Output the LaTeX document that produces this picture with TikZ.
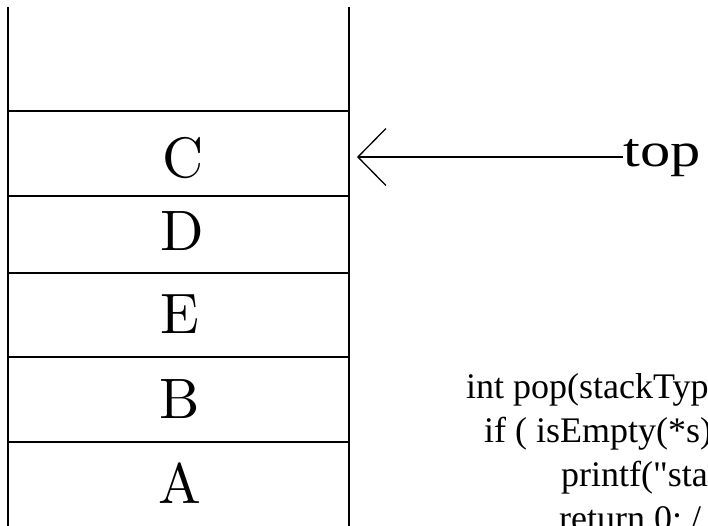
\documentclass[tikz,border=0pt]{standalone}
\usepackage{fontspec}
\usetikzlibrary{arrows.meta}
\newfontfamily\codefont{Liberation Serif}
\newfontfamily\lmten{lmroman10-regular}[Extension=.otf]
\tikzset{
  wall/.style={line width=1.4pt, black},
  cellline/.style={line width=1.3pt, black},
  letter/.style={anchor=base, inner sep=0pt, font=\lmten\fontsize{57}{60}\selectfont},
  codeline/.style={anchor=base west, inner sep=0pt, font=\codefont\fontsize{36}{40}\selectfont},
  toptext/.style={anchor=base west, inner sep=0pt, xscale=1.26, font=\codefont\fontsize{48}{52}\selectfont},
  ptr/.style={line width=1.3pt, -{Straight Barb[length=28pt, width=57pt, line width=1.3pt]}}
}
\begin{document}
\begin{tikzpicture}[x=1pt, y=-1pt]
\useasboundingbox (0,0) rectangle (708,525);
\clip (0,0) rectangle (708,525);
% stack walls
\draw[wall] (8,7) -- (8,530);
\draw[wall] (349,7) -- (349,530);
% cell separators
\foreach \yy in {111,196,273,357,442}{
  \draw[cellline] (8,\yy) -- (349,\yy);
}
% cell contents
\node[letter] (C) at (183,177) {C};
\node[letter] (D) at (182,250) {D};
\node[letter] (E) at (180,333) {E};
\node[letter] (B) at (180,418) {B};
\node[letter] (A) at (180,503) {A};
% top pointer
\node[toptext] (toplbl) at (623,166) {top};
\coordinate (tip) at (357,157);
\draw[ptr] (toplbl.west |- tip) -- (tip);
% code
\node[codeline] (l1) at (466,398) {int pop(stackType};
\node[codeline] (l2) at (484,442) {if ( isEmpty(*s)};
\node[codeline] (l3) at (561,486) {printf("stack};
\node[codeline] (l4) at (559,530) {return 0; /};
\end{tikzpicture}
\end{document}
